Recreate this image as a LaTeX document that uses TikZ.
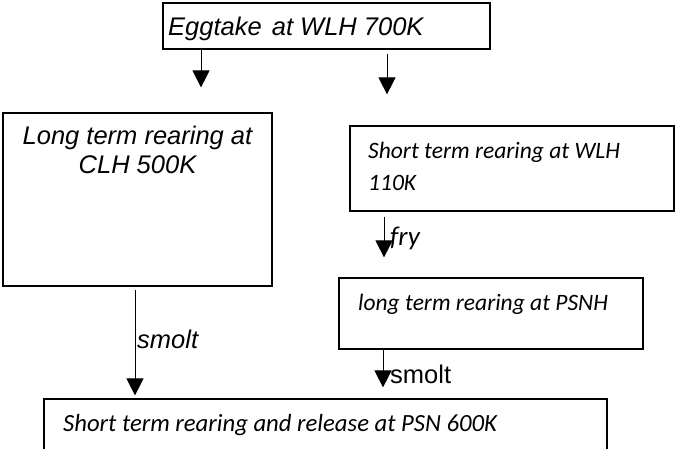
\documentclass[tikz,border=0pt]{standalone}
\usepackage{fontspec}
\newfontfamily\arialfont{Liberation Sans}
\newfontfamily\calibrifont{Carlito}
\usetikzlibrary{arrows.meta}
\tikzset{
	box/.style={draw, line width=1.2pt, inner sep=0pt, rectangle},
	flow/.style={line width=1pt, -{Triangle[width=17pt,length=17pt]}},
	arialtxt/.style={inner sep=0pt, font=\arialfont\itshape\fontsize{25.5}{29}\selectfont},
	arialup/.style={inner sep=0pt, font=\arialfont\fontsize{25.5}{29}\selectfont},
	calibritxt/.style={inner sep=0pt, font=\calibrifont\itshape\fontsize{23.5}{29}\selectfont}
}

\begin{document}
\begin{tikzpicture}[x=1pt,y=-1pt]
	% page 676 x 448, 1pt = 1px
	\useasboundingbox (0,0) rectangle (676,448);
	% boxes
	\node[box, minimum width=327pt, minimum height=46pt] (egg) at (326.5,26) {};
	\node[box, minimum width=269pt, minimum height=173pt] (clh) at (137.5,199.5) {};
	\node[box, minimum width=324pt, minimum height=85pt] (wlh) at (512,168.5) {};
	\node[box, minimum width=304pt, minimum height=71pt] (psnh) at (491,313.5) {};
	\node[box, minimum width=563pt, minimum height=72pt] (psn) at (325.5,435) {};
	% texts
	\node[arialtxt, anchor=base west] (eggtxt) at (168,35) {Eggtake\kern3pt{} at WLH 700K};
	\node[arialtxt, anchor=base] (clhtxta) at (137.5,144) {Long term rearing at};
	\node[arialtxt, anchor=base] (clhtxtb) at (137.5,173) {CLH 500K};
	\node[calibritxt, anchor=base west] (wlhtxta) at (368,158) {Short term rearing at WLH};
	\node[calibritxt, anchor=base west] (wlhtxtb) at (368,190) {110K};
	\node[calibritxt, anchor=base west] (psnhtxt) at (358,310) {long term rearing at PSNH};
	\node[calibritxt, anchor=base west, font=\calibrifont\itshape\fontsize{24.7}{29}\selectfont] (psntxt) at (63,431) {Short term rearing and release at PSN 600K};
	% arrow columns
	\coordinate (colA) at (201,0);
	\coordinate (colB) at (387,0);
	\coordinate (colC) at (135,0);
	\coordinate (colD) at (384,0);
	\coordinate (colE) at (383,0);
	% connectors
	\draw[flow, shorten <=-2pt, shorten >=25pt] (egg.south -| colA) -- (clh.north -| colA);
	\draw[flow, shorten <=4pt, shorten >=31pt] (egg.south -| colB) -- (wlh.north -| colB);
	\draw[flow, shorten <=3pt, shorten >=3pt] (clh.south -| colC) -- (psn.north -| colC);
	\draw[flow, shorten <=5pt, shorten >=20pt] (wlh.south -| colD) -- (psnh.north -| colD);
	\draw[flow, shorten <=-2pt, shorten >=11pt] (psnh.south -| colE) -- (psn.north -| colE);
	% connector labels
	\node[arialtxt, anchor=base west] (smoltA) at (137,348) {smolt};
	\node[calibritxt, anchor=base west, font=\calibrifont\itshape\fontsize{27}{29}\selectfont] (fry) at (390,245) {fry};
	\node[arialup, anchor=base west] (smoltB) at (390,383) {smolt};
\end{tikzpicture}
\end{document}
